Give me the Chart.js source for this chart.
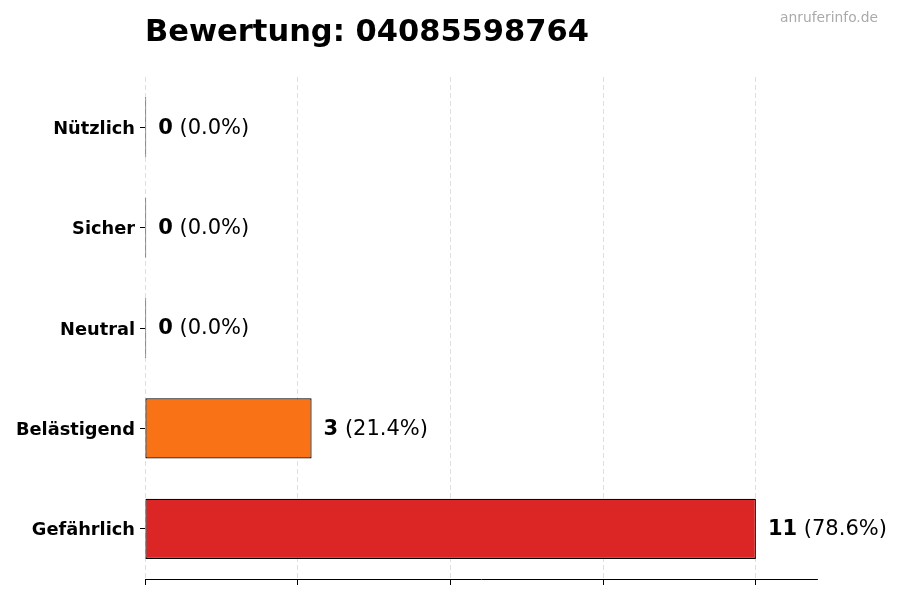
<!DOCTYPE html>
<html>
<head>
<meta charset="utf-8">
<script src="https://cdn.jsdelivr.net/npm/chart.js@4/dist/chart.umd.min.js"></script>
<style>
  body { margin: 0; background: #fff; }
</style>
</head>
<body>
<canvas id="ratingChart" width="900" height="600"></canvas>
<script>
const categories = ['Nützlich', 'Sicher', 'Neutral', 'Belästigend', 'Gefährlich'];
const counts = [0, 0, 0, 3, 11];
const barColors = ['#22c55e', '#3b82f6', '#9ca3af', '#f97316', '#dc2626'];
const xTicks = [0, 2.75, 5.5, 8.25, 11];
const xMax = 12.1;
const titleText = 'Bewertung: 04085598764';
const sourceText = 'anruferinfo.de';

const total = counts.reduce((a, b) => a + b, 0);

// titel, quelle und werte neben den balken
const labelsPlugin = {
  id: 'labels',
  afterDraw(chart) {
    const ctx = chart.ctx;
    ctx.save();
    ctx.fillStyle = '#000';
    ctx.textAlign = 'left';
    ctx.textBaseline = 'alphabetic';
    ctx.font = 'bold 30.5px "DejaVu Sans"';
    ctx.fillText(titleText, 145, 41);

    ctx.fillStyle = '#aaaaaa';
    ctx.textAlign = 'right';
    ctx.font = '13.8px "DejaVu Sans"';
    ctx.fillText(sourceText, 878, 22);

    const meta = chart.getDatasetMeta(0);
    ctx.textAlign = 'left';
    ctx.textBaseline = 'middle';
    ctx.fillStyle = '#000';
    meta.data.forEach((bar, i) => {
      const pct = total ? (counts[i] / total * 100).toFixed(1) : '0.0';
      let x = bar.x + 12;
      const y = bar.y + 1;
      ctx.font = 'bold 21px "DejaVu Sans"';
      const num = String(counts[i]);
      ctx.fillText(num, x, y);
      x += ctx.measureText(num).width;
      ctx.font = '21px "DejaVu Sans"';
      ctx.fillText(' (' + pct + '%)', x, y);
    });
    ctx.restore();
  }
};

new Chart(document.getElementById('ratingChart'), {
  type: 'bar',
  data: {
    labels: categories,
    datasets: [{
      data: counts,
      backgroundColor: barColors,
      borderColor: '#000',
      borderWidth: 1.2,
      borderSkipped: false,
      minBarLength: 1.2,
      barPercentage: 0.6,
      categoryPercentage: 1
    }]
  },
  options: {
    indexAxis: 'y',
    responsive: false,
    animation: false,
    layout: { padding: { left: 0, top: 77, right: 83, bottom: 15 } },
    plugins: {
      legend: { display: false },
      tooltip: { enabled: false }
    },
    scales: {
      x: {
        min: 0,
        max: xMax,
        z: 1,
        afterBuildTicks: s => { s.ticks = xTicks.map(v => ({ value: v })); },
        afterFit: s => { s.height = 6; },
        ticks: { display: false },
        grid: {
          color: 'rgba(0,0,0,0.16)',
          lineWidth: 0.8,
          tickColor: '#000',
          tickLength: 6,
          tickWidth: 1
        },
        border: { display: true, color: '#000', width: 1, dash: [5, 3] }
      },
      y: {
        afterFit: s => { s.width = 145; },
        ticks: {
          color: '#000',
          padding: 5,
          labelOffset: 2,
          font: { family: 'DejaVu Sans', size: 17.8, weight: 'bold' }
        },
        grid: {
          offset: false,
          drawOnChartArea: false,
          tickColor: '#000',
          tickLength: 5,
          tickWidth: 1
        },
        border: { display: false }
      }
    }
  },
  plugins: [labelsPlugin]
});
</script>
</body>
</html>
